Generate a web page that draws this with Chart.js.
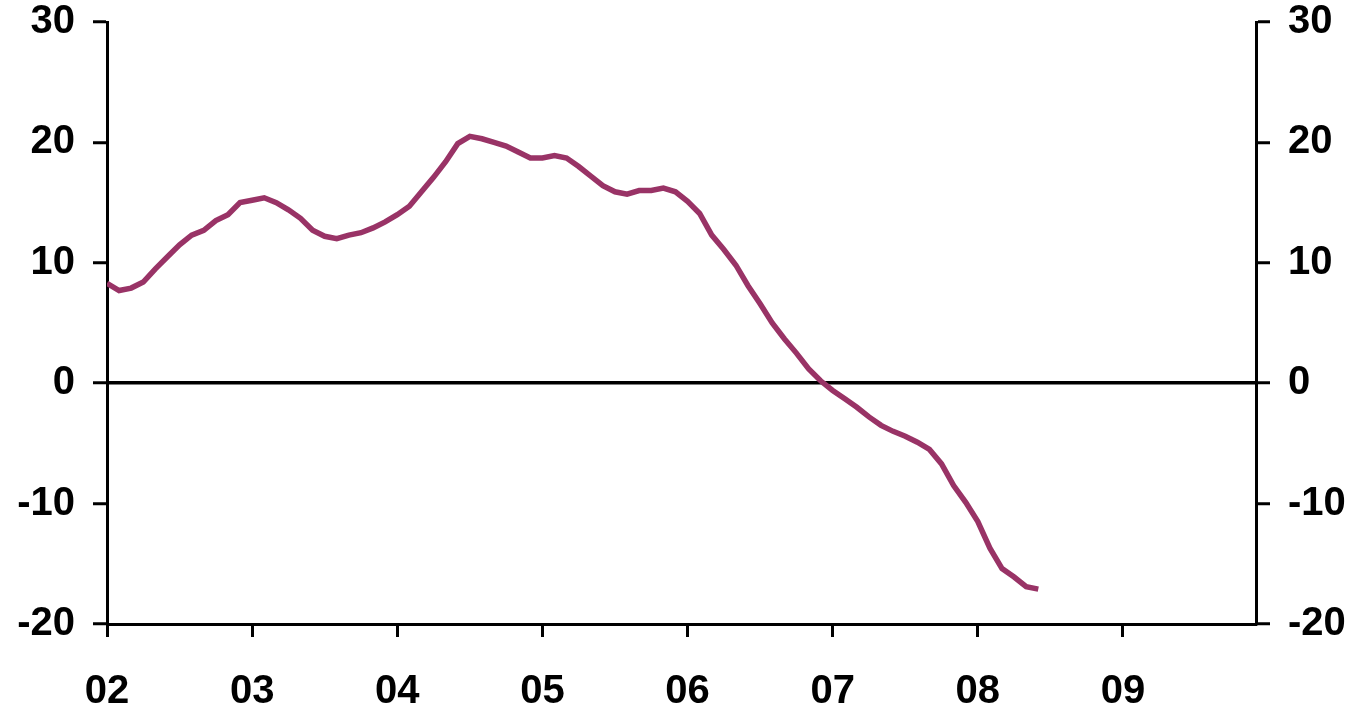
<!DOCTYPE html>
<html>
<head>
<meta charset="utf-8">
<script src="https://cdn.jsdelivr.net/npm/chart.js@4/dist/chart.umd.min.js"></script>
<style>
  html, body { margin: 0; padding: 0; background: #fff; }
  #wrap { width: 1358px; height: 711px; }
</style>
</head>
<body>
<div id="wrap"><canvas id="chart"></canvas></div>
<script>
// monthly, Jan 2002 .. Jun 2008 (index 0 = Jan 02)
const values = [
  8.3, 7.7, 7.9, 8.4, 9.5, 10.5, 11.5, 12.3, 12.7, 13.5, 14.0, 15.0,
  15.2, 15.4, 15.0, 14.4, 13.7, 12.7, 12.2, 12.0, 12.3, 12.5, 12.9, 13.4,
  14.0, 14.7, 15.9, 17.1, 18.4, 19.9, 20.5, 20.3, 20.0, 19.7, 19.2, 18.7,
  18.7, 18.9, 18.7, 18.0, 17.2, 16.4, 15.9, 15.7, 16.0, 16.0, 16.2, 15.9,
  15.1, 14.1, 12.3, 11.1, 9.8, 8.1, 6.6, 5.0, 3.7, 2.5, 1.2, 0.2,
  -0.6, -1.3, -2.0, -2.8, -3.5, -4.0, -4.4, -4.9, -5.5, -6.7, -8.5, -9.9,
  -11.5, -13.7, -15.4, -16.1, -16.9, -17.1
];
const yearLabels = ['02', '03', '04', '05', '06', '07', '08', '09'];
const monthCount = 96; // Jan 02 .. Dec 09

const points = values.map((v, i) => ({ x: i, y: v }));

const font = { family: 'Liberation Sans, Arial, sans-serif', size: 40, weight: 'bold' };

const yAxis = (pos) => ({
  position: pos,
  min: -20,
  max: 30,
  afterFit: (s) => {
    s.width = pos === 'left' ? 107 : 102;
    s.paddingTop = 0;
    s.paddingBottom = 0;
  },
  border: { display: true, color: '#000', width: 3 },
  grid: {
    drawOnChartArea: pos === 'left',
    color: (c) => (c.tick && c.tick.value === 0 ? '#000' : 'rgba(0,0,0,0)'),
    lineWidth: 3.5,
    tickColor: '#000',
    tickWidth: 3,
    tickLength: 14
  },
  ticks: { stepSize: 10, color: '#000', font, padding: 18 }
});

new Chart(document.getElementById('chart'), {
  type: 'line',
  data: {
    datasets: [{
      data: points,
      borderColor: '#993366',
      borderWidth: 5.5,
      pointRadius: 0,
      tension: 0,
      yAxisID: 'y'
    }]
  },
  options: {
    responsive: true,
    maintainAspectRatio: false,
    animation: false,
    layout: { padding: { top: 22, left: 0, right: 0, bottom: 0 } },
    plugins: { legend: { display: false }, tooltip: { enabled: false } },
    scales: {
      x: {
        type: 'linear',
        min: 0,
        max: monthCount - 1,
        afterFit: (s) => { s.height = 87; },
        afterBuildTicks: (s) => {
          s.ticks = yearLabels.map((_, i) => ({ value: i * 12 }));
        },
        border: { display: true, color: '#000', width: 3 },
        grid: {
          drawOnChartArea: false,
          tickColor: '#000',
          tickWidth: 3,
          tickLength: 13
        },
        ticks: {
          color: '#000',
          font,
          padding: 31,
          maxRotation: 0,
          callback: (v) => yearLabels[v / 12]
        }
      },
      y: yAxis('left'),
      y2: yAxis('right')
    }
  }
});
</script>
</body>
</html>
